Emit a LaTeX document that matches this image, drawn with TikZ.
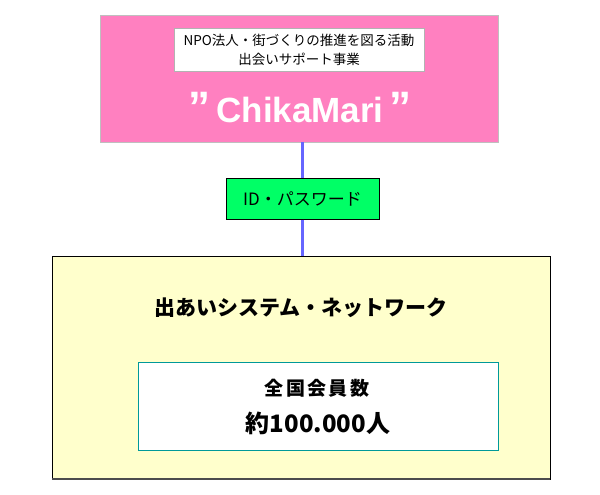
\documentclass[tikz,border=0pt]{standalone}
\usepackage{fontspec}
\setmainfont{Liberation Sans}
\newfontfamily\jpfont{Noto Sans CJK JP}
\usetikzlibrary{positioning}

\definecolor{cmpink}{HTML}{FF80C0}
\definecolor{cmgreen}{HTML}{00FF66}
\definecolor{cmyellow}{HTML}{FFFFCC}
\definecolor{cmblue}{HTML}{6666FF}
\definecolor{cmteal}{HTML}{009999}

\tikzset{
  bigbox/.style={draw, inner sep=0pt},
  notebox/.style={draw=gray!60, fill=white, inner sep=0pt},
  link/.style={cmblue, line width=3pt}
}

\newcommand{\bigquote}{{\bfseries\fontsize{44}{44}\selectfont ”}}

\begin{document}
\begin{tikzpicture}[x=1pt, y=-1pt, node distance=36pt]
 \useasboundingbox (0,0) rectangle (600,495);

 % top: ChikaMari
 \node[bigbox, draw=gray!50, fill=cmpink, minimum width=398pt, minimum height=127pt]
     (chikamari) at (299,78.5) {};
 \node[notebox, minimum width=250pt, minimum height=43pt, below=13pt of chikamari.north]
     (npo) {};
 \node[align=center, font=\jpfont\fontsize{13.5}{19}\selectfont] (npotext) at (npo)
     {NPO法人・街づくりの推進を図る活動\\出会いサポート事業};
 \node[text=white, font=\bfseries\fontsize{35}{40}\selectfont] (name) at (300,108)
     {\bigquote\,ChikaMari\,\bigquote};

 % middle: login
 \node[bigbox, fill=cmgreen, minimum width=153pt, minimum height=41pt,
       below=of chikamari, xshift=3.5pt] (idpass)
     {\jpfont\fontsize{17}{20}\selectfont ID・パスワード};

 % bottom: network
 \node[bigbox, fill=cmyellow, minimum width=498pt, minimum height=223pt,
       below=of idpass, xshift=-1.5pt] (network) {};
 \draw[black!70, line width=1.2pt] (network.south west) -- (network.south east);
 \node[font=\jpfont\bfseries\fontsize{21}{24}\selectfont] (nettitle) at (301,308)
     {出あいシステム・ネットワーク};
 \node[draw=cmteal, fill=white, inner sep=0pt, minimum width=360pt, minimum height=88pt]
     (members) at (318,406) {};
 \node[font=\jpfont\bfseries\fontsize{19}{22}\selectfont\addfontfeatures{LetterSpace=12}]
     (count) at (317,388) {全国会員数};
 \node[font=\jpfont\bfseries\fontsize{24}{28}\selectfont] (total) at (318,423)
     {約100.000人};

 \draw[link] (idpass.north) -- (idpass.north |- chikamari.south);
 \draw[link] (idpass.south) -- (idpass.south |- network.north);
\end{tikzpicture}
\end{document}
